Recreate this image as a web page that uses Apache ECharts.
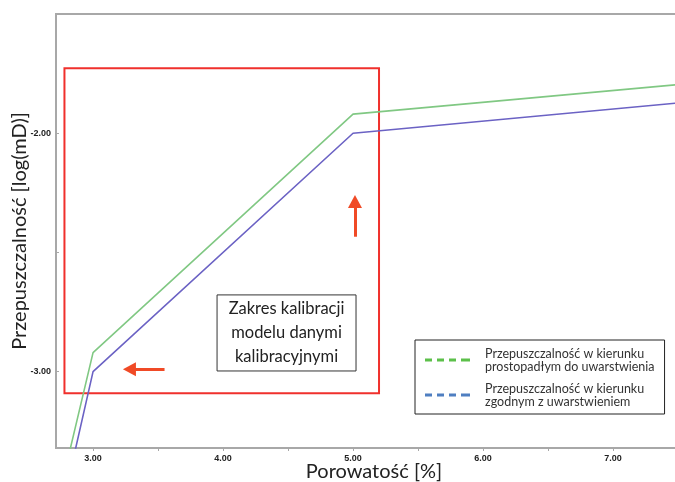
<!DOCTYPE html>
<html>
<head>
<meta charset="utf-8">
<script src="https://cdn.jsdelivr.net/npm/echarts@6/dist/echarts.min.js"></script>
<style>
  html, body { margin: 0; padding: 0; background: #ffffff; }
  #chart { width: 675px; height: 482px; }
</style>
</head>
<body>
<div id="chart"></div>
<script>
// Porosity (x) and log permeability (y) for both flow directions
const porosity = [2.8, 3.0, 5.0, 7.5];
const permPerpendicular = [-3.38, -2.92, -1.92, -1.796];
const permParallel = [-3.48, -3.0, -2.0, -1.873];

// Axis ticks and labels
const xLabelValues = [3, 4, 5, 6, 7];
const xTickValues = [3, 3.5, 4, 4.5, 5, 5.5, 6, 6.5, 7, 7.5];
const yLabelValues = [-3, -2];
const yTickValues = [-3, -2.5, -2];

// Calibration range rectangle and explanatory note box (data coordinates)
const calibRange = [[2.78, -1.727], [5.2, -3.09]];
const noteBox = [[3.954, -2.678], [5.023, -2.997]];
const noteText = 'Zakres kalibracji\nmodelu danymi\nkalibracyjnymi';

// Arrows pointing at the calibration corner points
const arrowLeft = [[3.55, -2.99], [3.28, -2.99]];
const arrowUp = [[5.015, -2.434], [5.015, -2.286]];

const seriesNames = [
  'Przepuszczalność w kierunku\nprostopadłym do uwarstwienia',
  'Przepuszczalność w kierunku\nzgodnym z uwarstwieniem'
];

const chart = echarts.init(document.getElementById('chart'));

const dashIcon = 'path://M0,0h7v3h-7z M12,0h7v3h-7z M24,0h7v3h-7z M36,0h9v3h-9z';

chart.setOption({
  animation: false,
  grid: {
    left: 56, right: -3, top: 14, bottom: 34,
    outerBoundsMode: 'none', containLabel: false,
    show: true, borderColor: '#a8a8a8', borderWidth: 2, backgroundColor: 'transparent'
  },
  xAxis: {
    type: 'value',
    min: 2.715,
    max: 7.5,
    splitLine: { show: false },
    axisLine: { lineStyle: { color: '#a8a8a8', width: 2 } },
    axisTick: { customValues: xTickValues, length: 3, lineStyle: { color: '#a8a8a8' } },
    axisLabel: {
      customValues: xLabelValues,
      formatter: v => v.toFixed(2),
      fontFamily: 'Liberation Sans', fontWeight: 'bold', fontSize: 9, color: '#222', margin: 6
    },
    name: 'Porowatość [%]',
    nameLocation: 'middle',
    nameGap: 14,
    nameMoveOverlap: false,
    nameTextStyle: { fontFamily: 'Lato', fontSize: 20, color: '#222', verticalAlign: 'top', padding: [0, 0, 0, 14] }
  },
  yAxis: {
    type: 'value',
    min: -3.32,
    max: -1.5,
    splitLine: { show: false },
    axisLine: { show: true, lineStyle: { color: '#a8a8a8', width: 2 } },
    axisTick: { show: true, customValues: yTickValues, length: 3, inside: true, lineStyle: { color: '#a8a8a8' } },
    axisLabel: {
      customValues: yLabelValues,
      formatter: v => v.toFixed(2),
      fontFamily: 'Liberation Sans', fontWeight: 'bold', fontSize: 9, color: '#222', margin: 5
    },
    name: 'Przepuszczalność [log(mD)]',
    nameLocation: 'middle',
    nameGap: 26,
    nameMoveOverlap: false,
    nameTextStyle: { fontFamily: 'Lato', fontSize: 20, color: '#222' }
  },
  legend: {
    orient: 'vertical',
    left: 415,
    top: 340,
    padding: [7, 10, 6, 10],
    itemGap: 9,
    itemWidth: 45,
    itemHeight: 26,
    borderColor: '#222',
    borderWidth: 1,
    backgroundColor: '#fff',
    data: [
      { name: seriesNames[0], icon: dashIcon, itemStyle: { color: '#5cc04a' } },
      { name: seriesNames[1], icon: dashIcon, itemStyle: { color: '#4f7fc1' } }
    ],
    textStyle: { fontFamily: 'Lato', fontSize: 12.5, lineHeight: 13, color: '#333', padding: [0, 0, 0, 10] }
  },
  series: [
    {
      name: seriesNames[0],
      type: 'line',
      data: porosity.map((x, i) => [x, permPerpendicular[i]]),
      showSymbol: false,
      clip: true,
      lineStyle: { color: '#80c883', width: 1.6 },
      itemStyle: { color: '#80c883' },
      z: 3
    },
    {
      name: seriesNames[1],
      type: 'line',
      data: porosity.map((x, i) => [x, permParallel[i]]),
      showSymbol: false,
      clip: true,
      lineStyle: { color: '#6b62c4', width: 1.6 },
      itemStyle: { color: '#6b62c4' },
      z: 3,
      markArea: {
        silent: true,
        data: [
          [
            { coord: calibRange[0], itemStyle: { color: 'rgba(0,0,0,0)', borderColor: '#f0302c', borderWidth: 2 } },
            { coord: calibRange[1] }
          ],
          [
            {
              coord: noteBox[0],
              itemStyle: { color: '#ffffff', borderColor: '#333', borderWidth: 1 },
              label: {
                show: true, position: 'inside', formatter: noteText,
                fontFamily: 'Lato', fontSize: 16.5, lineHeight: 24, color: '#222', align: 'center'
              }
            },
            { coord: noteBox[1] }
          ]
        ]
      },
      markLine: {
        silent: true,
        symbol: ['none', 'triangle'],
        symbolSize: [14, 13],
        label: { show: false },
        lineStyle: { color: '#f04a26', width: 3, type: 'solid' },
        data: [
          [{ coord: arrowLeft[0] }, { coord: arrowLeft[1] }],
          [{ coord: arrowUp[0] }, { coord: arrowUp[1] }]
        ]
      }
    }
  ]
});
</script>
</body>
</html>
